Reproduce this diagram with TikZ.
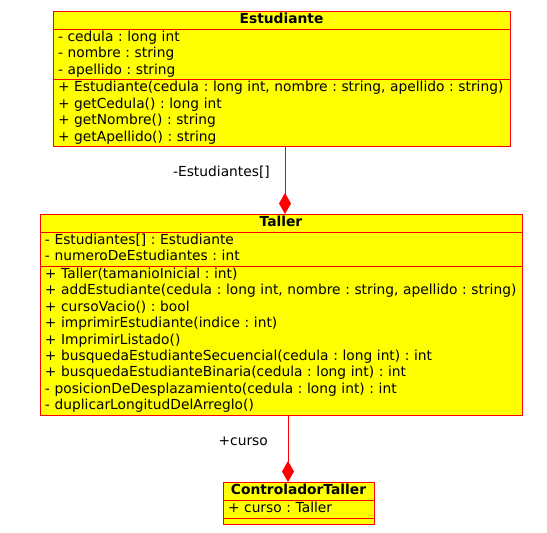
\documentclass[tikz,border=0pt]{standalone}
\usepackage{fontspec}
\setmainfont{DejaVu Sans}
\usetikzlibrary{shapes.multipart, arrows.meta, positioning, calc}

\definecolor{classyellow}{RGB}{255,255,0}
\definecolor{classred}{RGB}{255,0,0}
\newcommand\umlfont{\fontsize{13.8}{16.4}\selectfont\frenchspacing}
\newcommand\classtitle[1]{{\centering\bfseries\strut #1\par}}

\tikzset{
    umlclass/.style={rectangle split, rectangle split parts=3, draw=classred, fill=classyellow,
        line width=0.8pt, inner xsep=5pt, inner ysep=0.3pt, font=\umlfont, align=left},
    comp/.style={classred, line width=0.9pt, -{Diamond[length=21pt,width=12pt]}},
    rolelabel/.style={font=\umlfont, inner sep=0pt}
}

\begin{document}
\begin{tikzpicture}[x=1pt, y=1pt]
\useasboundingbox (0,0) rectangle (547,-533);

% classes
\node[umlclass, text width=447pt, anchor=north] (est) at (281.5,-11) {
    \classtitle{Estudiante}
    \nodepart{two}
    \strut- cedula : long int\\
    \strut- nombre : string\\
    \strut- apellido : string
    \nodepart{three}
    \strut+ Estudiante(cedula : long int, nombre : string, apellido : string)\\
    \strut+ getCedula() : long int\\
    \strut+ getNombre() : string\\
    \strut+ getApellido() : string
};

\node[umlclass, text width=472pt, anchor=north] (tal) at (281,-214) {
    \classtitle{Taller}
    \nodepart{two}
    \strut- Estudiantes[] : Estudiante\\
    \strut- numeroDeEstudiantes : int
    \nodepart{three}
    \strut+ Taller(tamanioInicial : int)\\
    \strut+ addEstudiante(cedula : long int, nombre : string, apellido : string)\\
    \strut+ cursoVacio() : bool\\
    \strut+ imprimirEstudiante(indice : int)\\
    \strut+ ImprimirListado()\\
    \strut+ busquedaEstudianteSecuencial(cedula : long int) : int\\
    \strut+ busquedaEstudianteBinaria(cedula : long int) : int\\
    \strut- posicionDeDesplazamiento(cedula : long int) : int\\
    \strut- duplicarLongitudDelArreglo()
};

\node[umlclass, text width=141pt, anchor=north] (ctl) at (298.5,-482) {
    \classtitle{ControladorTaller}
    \nodepart{two}
    \strut+ curso : Taller
    \nodepart{three}
    \rule{0pt}{5.4pt}
};

% composiciones
\draw[comp] ([xshift=3.5pt]est.south) -- ([xshift=3.5pt]est.south |- tal.north);
\draw[comp] ([xshift=7pt]tal.south) -- ([xshift=7pt]tal.south |- ctl.north);

% roles
\path ([xshift=3.5pt]est.south) -- ([xshift=3.5pt]est.south |- tal.north)
    node[rolelabel, pos=0.38, left=15pt] (rol1) {-Estudiantes[]};
\path ([xshift=7pt]tal.south) -- ([xshift=7pt]tal.south |- ctl.north)
    node[rolelabel, pos=0.38, left=20pt] (rol2) {+curso};
\end{tikzpicture}
\end{document}
